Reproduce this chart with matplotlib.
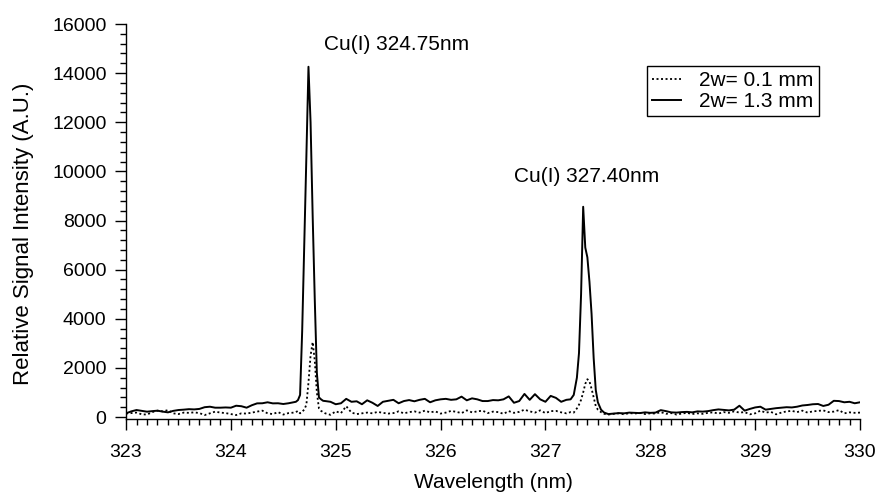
import numpy as np
import matplotlib
matplotlib.use("Agg")
import matplotlib.pyplot as plt
from matplotlib.ticker import MultipleLocator

plt.rcParams['font.family'] = ['Liberation Sans', 'DejaVu Sans']

# wavelength grid (nm): coarse on the background, finer across the two Cu lines
wl = np.round(np.concatenate([
    np.arange(323.00, 324.601, 0.05),
    np.arange(324.62, 324.881, 0.02),
    np.arange(324.90, 327.201, 0.05),
    [327.24, 327.27, 327.30, 327.32, 327.34, 327.36, 327.38, 327.40,
     327.42, 327.44, 327.46, 327.48, 327.50, 327.53, 327.56, 327.60],
    np.arange(327.65, 330.001, 0.05),
]), 2)

# 2w = 1.3 mm (solid)
wide = [
    # 323.00 - 324.60
    150, 230, 285, 250, 217, 240, 258, 220, 190, 250, 285, 300, 320, 310, 330, 400, 420,
    380, 380, 390, 380, 460, 440, 380, 480, 556, 560, 600, 556, 560, 530, 560, 600,
    # 324.62 - 324.88
    620, 690, 900, 3500, 7000, 10600, 14260, 12000, 8200, 4800, 1800, 800, 720, 660,
    # 324.90 - 327.20
    650, 620, 520, 560, 740, 620, 640, 520, 680, 580, 450, 620, 660, 700, 560, 650,
    690, 640, 700, 740, 600, 680, 720, 740, 700, 720, 830, 680, 760, 720, 650, 650,
    690, 680, 720, 840, 580, 650, 940, 700, 930, 720, 620, 860, 780, 620, 700,
    # 327.24 - 327.60
    720, 900, 1600, 2600, 5000, 8560, 6900, 6500, 5500, 4200, 2400, 1100, 600, 300, 180, 120,
    # 327.65 - 330.00
    140, 160, 150, 180, 170, 160, 190, 170, 180, 280, 240, 190, 180, 200, 210, 190,
    230, 220, 240, 280, 310, 290, 270, 300, 460, 260, 330, 390, 420, 300, 330, 360,
    380, 400, 390, 420, 470, 490, 520, 530, 450, 500, 660, 650, 600, 620, 560, 600,
]

# 2w = 0.1 mm (dotted)
narrow = [
    # 323.00 - 324.60
    140, 160, 180, 110, 100, 200, 258, 230, 280, 150, 120, 180, 170, 190, 160, 80, 150,
    220, 180, 160, 120, 80, 150, 140, 180, 220, 260, 150, 120, 200, 100, 160, 180,
    # 324.62 - 324.88
    200, 250, 150, 220, 300, 500, 1400, 2500, 3050, 2300, 1000, 350, 250, 200,
    # 324.90 - 327.20
    150, 90, 230, 160, 440, 180, 120, 150, 180, 150, 210, 170, 140, 160, 230, 150,
    200, 230, 180, 260, 190, 230, 140, 180, 250, 210, 160, 270, 190, 230, 260, 160,
    220, 200, 130, 240, 170, 210, 300, 230, 180, 270, 160, 240, 250, 190, 150,
    # 327.24 - 327.60
    200, 180, 350, 500, 700, 1000, 1350, 1540, 1450, 1150, 800, 450, 300, 200, 130, 100,
    # 327.65 - 330.00
    130, 150, 110, 160, 140, 170, 120, 150, 140, 200, 130, 160, 100, 140, 170, 120,
    150, 130, 170, 190, 140, 200, 170, 230, 180, 200, 110, 150, 260, 180, 210, 110,
    180, 230, 250, 200, 260, 180, 230, 250, 270, 200, 220, 280, 150, 190, 170, 180,
]

labels = ["2w= 0.1 mm", "2w= 1.3 mm"]
peak_names = ["Cu(I) 324.75nm", "Cu(I) 327.40nm"]
peak_pos = [(325.58, 15150), (327.39, 9800)]

fig = plt.figure(figsize=(8.77, 4.92), dpi=100)
ax = fig.add_axes([0.1437, 0.1484, 0.8369, 0.8028])

ax.plot(wl, narrow, color='black', lw=1.3, ls=(0, (1.1, 1.4)), label=labels[0])
ax.plot(wl, wide, color='black', lw=1.4, label=labels[1])

for name, (x, y) in zip(peak_names, peak_pos):
    ax.text(x, y, name, ha='center', va='center', fontsize=15)

ax.set_xlim(323, 330)
ax.set_ylim(-80, 16000)
ax.xaxis.set_major_locator(MultipleLocator(1))
ax.xaxis.set_minor_locator(MultipleLocator(0.1))
ax.yaxis.set_major_locator(MultipleLocator(2000))
ax.yaxis.set_minor_locator(MultipleLocator(400))

for s in ['top', 'right']:
    ax.spines[s].set_visible(False)
for s in ['left', 'bottom']:
    ax.spines[s].set_linewidth(1.0)

ax.tick_params(axis='x', which='major', direction='out', length=8, width=1.0,
               labelsize=14, pad=10)
ax.tick_params(axis='y', which='major', direction='out', length=8, width=1.0,
               labelsize=14, pad=6)
ax.tick_params(which='minor', direction='out', length=4.3, width=1.0)

ax.set_xlabel("Wavelength (nm)", fontsize=15, labelpad=9)
ax.set_ylabel("Relative Signal Intensity (A.U.)", fontsize=16)
ax.yaxis.set_label_coords(-0.126, 0.47)

leg = ax.legend(loc='upper right', bbox_to_anchor=(0.944, 0.894), fontsize=15,
                frameon=True, fancybox=False, edgecolor='black', framealpha=1,
                handlelength=1.35, borderpad=0.25, labelspacing=0.1,
                handletextpad=0.9, borderaxespad=0)
leg.get_frame().set_linewidth(1.0)

fig.savefig("out.png", dpi=100)
